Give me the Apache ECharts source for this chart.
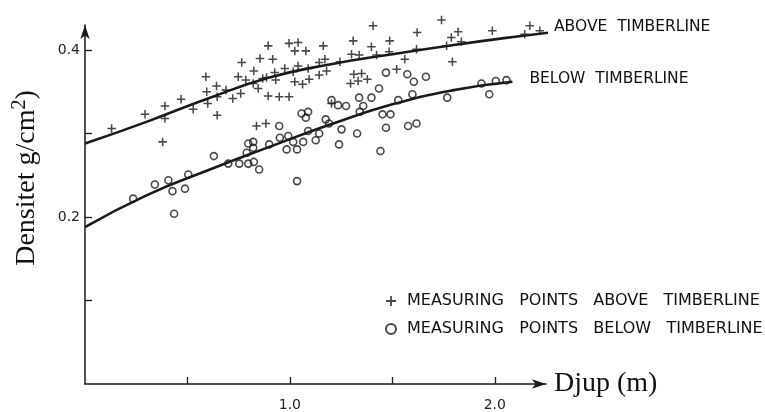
<!DOCTYPE html>
<html>
<head>
<meta charset="utf-8">
<script src="https://cdn.jsdelivr.net/npm/echarts@6/dist/echarts.min.js"></script>
<style>html,body{margin:0;padding:0;background:#fff}#c{width:765px;height:412px}</style>
</head>
<body>
<div id="c"></div>
<script>
// ---- data ----
const depthAbove = [0.130,0.293,0.390,0.390,0.379,0.469,0.528,0.590,0.594,0.599,0.642,0.645,0.645,0.688,0.721,0.765,0.748,0.760,0.785,0.824,0.821,0.845,0.854,0.867,0.894,0.916,0.894,0.886,0.926,0.931,0.948,0.975,0.996,1.040,1.024,1.078,0.996,1.016,1.024,1.040,1.062,1.094,1.089,1.143,1.163,1.143,1.171,1.179,0.837,0.883,1.203,1.244,1.309,1.301,1.338,1.406,1.398,1.423,1.487,1.484,1.561,1.621,1.618,1.740,1.765,1.788,1.821,1.837,1.793,1.988,2.146,2.171,2.220,1.312,1.350,1.296,1.333,1.378,1.521];
const densAbove  = [0.306,0.323,0.333,0.318,0.290,0.341,0.329,0.368,0.350,0.336,0.357,0.344,0.322,0.352,0.342,0.385,0.368,0.348,0.364,0.375,0.360,0.354,0.390,0.366,0.405,0.389,0.345,0.367,0.373,0.364,0.344,0.378,0.408,0.409,0.399,0.399,0.344,0.374,0.362,0.381,0.359,0.365,0.378,0.385,0.405,0.370,0.389,0.375,0.309,0.312,0.336,0.386,0.411,0.395,0.394,0.429,0.404,0.394,0.411,0.398,0.389,0.421,0.401,0.436,0.405,0.415,0.422,0.410,0.386,0.423,0.419,0.429,0.423,0.371,0.372,0.360,0.363,0.365,0.377];
const depthBelow = [0.235,0.341,0.407,0.427,0.435,0.488,0.504,0.629,0.699,0.753,0.797,0.824,0.850,0.789,0.797,0.821,0.821,0.899,0.951,0.992,0.984,1.035,1.016,1.065,1.089,1.126,1.143,1.175,1.191,1.203,1.235,1.274,1.240,1.035,0.948,1.057,1.089,1.078,1.252,1.328,1.338,1.358,1.341,1.398,1.435,1.469,1.452,1.491,1.469,1.442,1.573,1.605,1.664,1.529,1.598,1.577,1.618,1.768,1.935,2.005,2.057,1.973];
const densBelow  = [0.222,0.239,0.244,0.231,0.204,0.234,0.251,0.273,0.264,0.264,0.264,0.266,0.257,0.277,0.288,0.290,0.283,0.287,0.295,0.297,0.281,0.281,0.290,0.290,0.303,0.292,0.300,0.317,0.312,0.340,0.334,0.333,0.287,0.243,0.309,0.324,0.326,0.319,0.305,0.300,0.343,0.333,0.326,0.343,0.354,0.373,0.323,0.323,0.307,0.279,0.371,0.362,0.368,0.340,0.347,0.309,0.312,0.343,0.360,0.363,0.364,0.347];
const curveAboveX = [0.0,0.3,0.6,0.9,1.2,1.5,1.8,2.1,2.268];
const curveAboveY = [0.288,0.314,0.342,0.367,0.383,0.395,0.406,0.416,0.421];
const curveBelowX = [0.0,0.3,0.6,0.9,1.2,1.5,1.8,2.086];
const curveBelowY = [0.188,0.226,0.256,0.284,0.311,0.335,0.352,0.362];
const xTickValues = [0.5,1.0,1.5,2.0];
const xLabelValues = [1.0,2.0];
const yTickValues = [0.1,0.2,0.3,0.4];
const yLabelValues = [0.2,0.4];
const nameAbove = 'MEASURING POINTS ABOVE TIMBERLINE';
const nameBelow = 'MEASURING POINTS BELOW TIMBERLINE';
const curveLabelAbove = 'ABOVE  TIMBERLINE';
const curveLabelBelow = 'BELOW  TIMBERLINE';
const xTitle = 'Djup (m)';
const yTitleMain = 'Densitet g/cm';
const yTitleSup = '2';
const yTitleEnd = ')';

const zip = (a,b) => a.map((v,i)=>[v,b[i]]);
const ink = '#1a1a1a';
const plusPath = 'path://M4.1,0H5.9V4.1H10V5.9H5.9V10H4.1V5.9H0V4.1H4.1Z';

const chart = echarts.init(document.getElementById('c'), null, {renderer:'canvas'});
chart.setOption({
  backgroundColor:'#ffffff',
  animation:false,
  grid:{left:85, top:25, right:219, bottom:28},
  xAxis:{
    type:'value', min:0, max:2.25,
    axisLine:{show:true, lineStyle:{color:ink, width:1.5}, symbol:['none','arrow'], symbolSize:[7,14]},
    axisTick:{show:true, inside:true, length:7, lineStyle:{color:ink, width:1.3}, customValues:xTickValues},
    axisLabel:{show:true, customValues:xLabelValues, formatter:v=>Number(v).toFixed(1), margin:14, fontFamily:'DejaVu Sans', fontSize:14, color:'#222'},
    splitLine:{show:false},
    name:xTitle, nameLocation:'end', nameGap:8,
    nameTextStyle:{fontFamily:'Liberation Serif', fontSize:28, color:'#111', align:'left', verticalAlign:'middle', padding:[10,0,0,0]}
  },
  yAxis:{
    type:'value', min:0, max:0.43,
    axisLine:{show:true, lineStyle:{color:ink, width:1.5}, symbol:['none','arrow'], symbolSize:[7,14]},
    axisTick:{show:true, inside:true, length:7, lineStyle:{color:ink, width:1.3}, customValues:yTickValues},
    axisLabel:{show:true, customValues:yLabelValues, formatter:v=>Number(v).toFixed(1), margin:5, fontFamily:'DejaVu Sans', fontSize:14, color:'#222'},
    splitLine:{show:false}
  },
  legend:{
    orient:'vertical', left:380, top:288, itemGap:12, itemWidth:10, itemHeight:10,
    data:[nameAbove, nameBelow],
    formatter:n=>n.split(' ').join('   '),
    textStyle:{fontFamily:'DejaVu Sans', fontSize:16, color:'#111', lineHeight:16, padding:[0,0,0,6]}
  },
  graphic:[{
    type:'text', x:27, y:178, rotation:Math.PI/2,
    style:{
      text:yTitleMain+'{s|'+yTitleSup+'}'+yTitleEnd,
      font:'28px "Liberation Serif"', fill:'#111', align:'center', verticalAlign:'middle',
      rich:{s:{fontFamily:'Liberation Serif', fontSize:20, fill:'#111', verticalAlign:'top', padding:[0,0,14,0]}}
    }
  }],
  series:[
    {name:'curveAbove', type:'line', data:zip(curveAboveX,curveAboveY), smooth:true, showSymbol:false, clip:false,
      lineStyle:{color:ink, width:2.6},
      endLabel:{show:true, formatter:curveLabelAbove, distance:0, offset:[6,-6], fontFamily:'DejaVu Sans', fontSize:15.5, color:'#111'}},
    {name:'curveBelow', type:'line', data:zip(curveBelowX,curveBelowY), smooth:true, showSymbol:false, clip:false,
      lineStyle:{color:ink, width:2.6},
      endLabel:{show:true, formatter:curveLabelBelow, distance:0, offset:[17,-3], fontFamily:'DejaVu Sans', fontSize:15.5, color:'#111'}},
    {name:nameAbove, type:'scatter', data:zip(depthAbove,densAbove), symbol:plusPath, symbolSize:8.5, clip:false,
      itemStyle:{color:ink}},
    {name:nameBelow, type:'scatter', data:zip(depthBelow,densBelow), symbol:'circle', symbolSize:7, clip:false,
      itemStyle:{color:'rgba(255,255,255,0)', borderColor:ink, borderWidth:1.6}}
  ]
});
</script>
</body>
</html>
